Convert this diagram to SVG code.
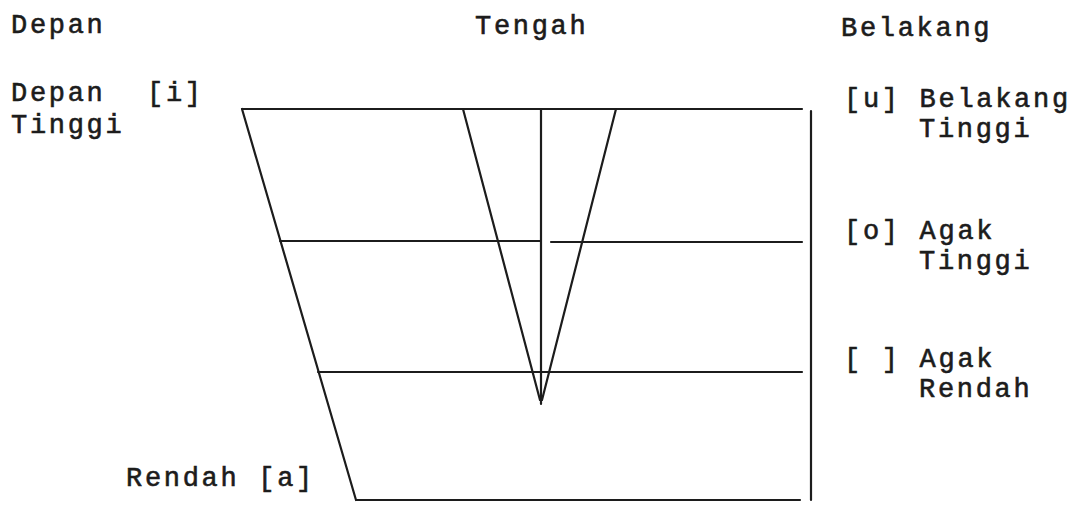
<svg xmlns="http://www.w3.org/2000/svg" width="1079" height="505" viewBox="0 0 1079 505">
<style>
text{font-family:"Liberation Mono","DejaVu Sans Mono",monospace;font-size:27px;letter-spacing:2.7px;fill:#1c1c1c;stroke:#1c1c1c;stroke-width:0.6}
.ln{stroke:#1c1c1c;stroke-width:2.2;fill:none;stroke-linecap:round}
</style>
<rect width="1079" height="505" fill="#ffffff"/>
<g id="headers">
<text x="11" y="33">Depan</text>
<text x="475" y="34">Tengah</text>
<text x="841" y="36">Belakang</text>
</g>
<g id="node-i">
<text x="11" y="101">Depan</text>
<text x="147" y="101">[i]</text>
<text x="11" y="133">Tinggi</text>
</g>
<g id="node-u">
<text x="844" y="107">[u] Belakang</text>
<text x="919" y="137">Tinggi</text>
</g>
<g id="node-o">
<text x="844" y="239">[o] Agak</text>
<text x="919" y="269">Tinggi</text>
</g>
<g id="node-blank">
<text x="844" y="367">[ ] Agak</text>
<text x="919" y="397">Rendah</text>
</g>
<g id="node-a">
<text x="126" y="486">Rendah [a]</text>
</g>
<g id="connectors">
<line class="ln" x1="242" y1="109" x2="802" y2="109"/>
<line class="ln" x1="242" y1="109" x2="356" y2="500"/>
<line class="ln" x1="356" y1="500" x2="800" y2="500"/>
<line class="ln" x1="811" y1="111" x2="811" y2="500"/>
<line class="ln" x1="541" y1="109" x2="541" y2="404"/>
<line class="ln" x1="463" y1="109" x2="540" y2="400"/>
<line class="ln" x1="616" y1="109" x2="542" y2="400"/>
<line class="ln" x1="280" y1="241" x2="540" y2="241"/>
<line class="ln" x1="551" y1="242" x2="802" y2="242"/>
<line class="ln" x1="318" y1="372" x2="540" y2="372"/>
<line class="ln" x1="541" y1="372" x2="802" y2="372"/>
</g>
</svg>
